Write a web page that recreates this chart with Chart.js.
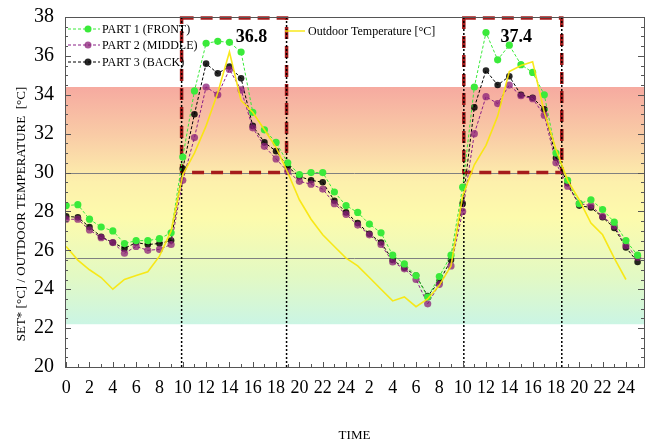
<!DOCTYPE html>
<html>
<head>
<meta charset="utf-8">
<script src="https://cdn.jsdelivr.net/npm/chart.js@4.4.1/dist/chart.umd.min.js"></script>
<style>
  html, body { margin: 0; padding: 0; background: #fff; }
</style>
</head>
<body>
<canvas id="chart" width="650" height="443"></canvas>
<script>
// hours since start (0..49)
var hours = [0, 1, 2, 3, 4, 5, 6, 7, 8, 9, 10, 11, 12, 13, 14, 15, 16, 17, 18, 19,
  20, 21, 22, 23, 24, 25, 26, 27, 28, 29, 30, 31, 32, 33, 34, 35, 36, 37, 38, 39,
  40, 41, 42, 43, 44, 45, 46, 47, 48, 49];

var part1 = [28.3, 28.35, 27.6, 27.2, 27.0, 26.35, 26.5, 26.5, 26.6, 26.9,
  30.8, 34.2, 36.65, 36.75, 36.7, 36.2, 33.1, 32.2, 31.55, 30.5,
  29.9, 30.0, 30.0, 29.0, 28.3, 27.95, 27.35, 26.9, 25.75, 25.3,
  24.7, 23.6, 24.65, 25.75, 29.25, 34.4, 37.2, 35.8, 36.55, 35.55,
  35.15, 34.0, 31.0, 29.6, 28.4, 28.6, 28.1, 27.45, 26.5, 25.75];

var part2 = [27.6, 27.6, 27.05, 26.65, 26.4, 25.85, 26.2, 26.0, 26.05, 26.3,
  29.6, 31.8, 34.4, 34.0, 35.3, 34.25, 32.3, 31.35, 30.7, 30.05,
  29.55, 29.4, 29.15, 28.4, 27.85, 27.3, 26.8, 26.3, 25.4, 25.05,
  24.5, 23.25, 24.25, 25.2, 28.0, 32.0, 33.9, 33.55, 34.5, 33.95,
  33.8, 32.95, 30.5, 29.3, 28.4, 28.3, 27.75, 27.25, 26.25, 25.65];

var part3 = [27.75, 27.7, 27.2, 26.7, 26.4, 26.1, 26.4, 26.3, 26.35, 26.5,
  30.2, 33.0, 35.6, 35.1, 35.45, 34.85, 32.4, 31.55, 31.1, 30.3,
  29.8, 29.6, 29.5, 28.55, 27.95, 27.4, 26.85, 26.4, 25.5, 25.1,
  24.7, 23.65, 24.4, 25.5, 28.4, 33.35, 35.25, 34.5, 34.95, 34.0,
  33.85, 33.25, 30.75, 29.45, 28.3, 28.2, 27.7, 27.15, 26.15, 25.4];

var outdoor = [26.2, 25.5, 25.0, 24.6, 24.0, 24.5, 24.7, 24.9, 25.7, 27.0,
  29.9, 31.0, 32.4, 34.1, 36.2, 33.7, 33.1, 32.2, 31.3, 30.0,
  28.6, 27.6, 26.8, 26.2, 25.6, 25.2, 24.6, 24.0, 23.4, 23.6,
  23.1, 23.5, 24.2, 25.2, 28.8, 30.4, 31.4, 32.9, 35.2, 35.5,
  35.7, 33.1, 31.2, 29.6, 28.6, 27.4, 26.8, 25.6, 24.5];

var seriesNames = ['PART 1 (FRONT)', 'PART 2 (MIDDLE)', 'PART 3 (BACK)', 'Outdoor Temperature [\u00b0C]'];
var yTitle = 'SET* [\u00b0C] / OUTDOOR TEMPERATURE  [\u00b0C]';

// peak windows (hours) and the peak value written in each
var boxStart = [9.9, 34.1];
var boxEnd = [18.9, 42.5];
var boxLabels = ['36.8', '37.4'];
var boxLabelAt = [15.9, 38.6];
var boxLow = 30, boxHigh = 38;

var refLines = [30, 25.6];
var bandTop = 34.4, bandBottom = 22.2;

function pts(arr) {
  return arr.map(function (v, i) { return { x: hours[i], y: v }; });
}

var serif = "'Liberation Serif', 'Times New Roman', serif";

var decor = {
  id: 'decor',
  beforeDatasetsDraw: function (chart) {
    var c = chart.ctx, a = chart.chartArea, xs = chart.scales.x, ys = chart.scales.y;
    c.save();
    // comfort band
    var t = ys.getPixelForValue(bandTop), b = ys.getPixelForValue(bandBottom);
    var g = c.createLinearGradient(0, t, 0, b);
    g.addColorStop(0, '#f6aaa0');
    g.addColorStop(0.2, '#f9cba6');
    g.addColorStop(0.4, '#fdf0ac');
    g.addColorStop(0.55, '#fdfbac');
    g.addColorStop(0.8, '#e2f9c4');
    g.addColorStop(1, '#cbf5e4');
    c.fillStyle = g;
    c.fillRect(a.left, t, a.right - a.left, b - t);
    // reference lines
    c.strokeStyle = '#808080';
    c.lineWidth = 1;
    refLines.forEach(function (v) {
      var y = Math.round(ys.getPixelForValue(v)) + 0.5;
      c.beginPath(); c.moveTo(a.left, y); c.lineTo(a.right, y); c.stroke();
    });
    // peak boxes
    c.strokeStyle = '#a51c1c';
    c.lineWidth = 3.5;
    c.setLineDash([12, 7]);
    for (var i = 0; i < boxStart.length; i++) {
      var x0 = xs.getPixelForValue(boxStart[i]), x1 = xs.getPixelForValue(boxEnd[i]);
      var y0 = ys.getPixelForValue(boxHigh), y1 = ys.getPixelForValue(boxLow);
      c.strokeRect(x0, y0 + 1, x1 - x0, y1 - y0 - 1);
    }
    // dotted verticals
    c.strokeStyle = '#000';
    c.lineWidth = 1.5;
    c.setLineDash([2, 2]);
    boxStart.concat(boxEnd).forEach(function (h) {
      var x = xs.getPixelForValue(h);
      c.beginPath(); c.moveTo(x, a.top); c.lineTo(x, a.bottom); c.stroke();
    });
    c.restore();
  },
  afterDatasetsDraw: function (chart) {
    var c = chart.ctx, xs = chart.scales.x, ys = chart.scales.y;
    c.save();
    // peak labels
    c.fillStyle = '#000';
    c.font = 'bold 18px ' + serif;
    c.textAlign = 'center';
    c.textBaseline = 'middle';
    for (var i = 0; i < boxLabels.length; i++) {
      c.fillText(boxLabels[i], xs.getPixelForValue(boxLabelAt[i]), ys.getPixelForValue(36.95));
    }
    // legend
    c.font = '12px ' + serif;
    c.textAlign = 'left';
    var rows = [29, 45, 62];
    for (var k = 0; k < 3; k++) {
      var ds = chart.data.datasets[k + 1];
      c.strokeStyle = ds.borderColor;
      c.lineWidth = 1;
      c.setLineDash([3, 2]);
      c.beginPath(); c.moveTo(68, rows[k]); c.lineTo(100, rows[k]); c.stroke();
      c.setLineDash([]);
      c.fillStyle = ds.pointBackgroundColor;
      c.beginPath(); c.arc(88, rows[k], 3.5, 0, Math.PI * 2); c.fill();
      c.fillStyle = '#000';
      c.fillText(ds.label, 102, rows[k] + 1);
    }
    var od = chart.data.datasets[0];
    c.strokeStyle = od.borderColor;
    c.lineWidth = 1.5;
    c.beginPath(); c.moveTo(285, 31); c.lineTo(305, 31); c.stroke();
    c.fillStyle = '#000';
    c.fillText(od.label, 308, 32);
    c.restore();
  },
  afterDraw: function (chart) {
    var c = chart.ctx, a = chart.chartArea, xs = chart.scales.x, ys = chart.scales.y;
    c.save();
    c.strokeStyle = '#555';
    c.lineWidth = 1;
    c.strokeRect(Math.round(a.left) + 0.5, Math.round(a.top) + 0.5, Math.round(a.right - a.left), Math.round(a.bottom - a.top));
    c.beginPath();
    for (var v = 20; v <= 38.001; v += 0.5) {
      var y = Math.round(ys.getPixelForValue(v)) + 0.5;
      var len = (Math.abs(v / 2 - Math.round(v / 2)) < 0.01) ? 6 : 3;
      c.moveTo(a.left, y); c.lineTo(a.left + len, y);
      c.moveTo(a.right, y); c.lineTo(a.right - len, y);
    }
    for (var h = 0; h <= 49; h += 1) {
      var x = Math.round(xs.getPixelForValue(h)) + 0.5;
      var l2 = (h % 2 === 0) ? 5 : 3;
      c.moveTo(x, a.bottom); c.lineTo(x, a.bottom - l2);
    }
    c.stroke();
    // y axis title, sits a little below the plot centre in the original
    c.fillStyle = '#000';
    c.font = '13px ' + serif;
    c.textAlign = 'center';
    c.textBaseline = 'middle';
    c.translate(22, (a.top + a.bottom) / 2 + 22);
    c.rotate(-Math.PI / 2);
    c.fillText(yTitle, 0, 0);
    c.restore();
  }
};

var ctx = document.getElementById('chart').getContext('2d');
var chart = new Chart(ctx, {
  type: 'line',
  data: {
    datasets: [{
      label: seriesNames[3],
      data: pts(outdoor),
      borderColor: 'rgba(248,230,10,0.92)',
      borderWidth: 1.6,
      pointRadius: 0,
      tension: 0
    }, {
      label: seriesNames[0],
      data: pts(part1),
      borderColor: '#3aea3a',
      pointBackgroundColor: '#3aea3a',
      borderWidth: 1,
      borderDash: [3, 2],
      pointRadius: 3.6,
      pointBorderWidth: 0
    }, {
      label: seriesNames[1],
      data: pts(part2),
      borderColor: '#8a1f86',
      pointBackgroundColor: 'rgba(138,31,120,0.75)',
      borderWidth: 1,
      borderDash: [3, 2],
      pointRadius: 3.6,
      pointBorderWidth: 0
    }, {
      label: seriesNames[2],
      data: pts(part3),
      borderColor: '#000000',
      pointBackgroundColor: 'rgba(0,0,0,0.85)',
      borderWidth: 1,
      borderDash: [3, 2],
      pointRadius: 3.3,
      pointBorderWidth: 0
    }]
  },
  options: {
    responsive: false,
    animation: false,
    layout: { padding: { top: 17, right: 6, left: 0, bottom: 0 } },
    plugins: { legend: { display: false }, tooltip: { enabled: false } },
    scales: {
      x: {
        type: 'linear',
        min: -0.1,
        max: 49.55,
        afterFit: function (s) { s.height = 76; },
        grid: { display: false },
        border: { display: false },
        ticks: {
          stepSize: 2,
          autoSkip: false,
          includeBounds: false,
          maxRotation: 0,
          padding: 2,
          color: '#000',
          font: { family: serif, size: 18 },
          callback: function (v) { return v > 24 ? v - 24 : v; }
        },
        title: {
          display: true,
          text: 'TIME',
          color: '#000',
          font: { family: serif, size: 13 },
          padding: { top: 0, bottom: 0 }
        }
      },
      y: {
        min: 20,
        max: 38,
        afterFit: function (s) { s.width = 65; },
        grid: { display: false },
        border: { display: false },
        ticks: {
          stepSize: 2,
          padding: 3,
          color: '#000',
          font: { family: serif, size: 20 }
        }
      }
    }
  },
  plugins: [decor]
});
</script>
</body>
</html>
